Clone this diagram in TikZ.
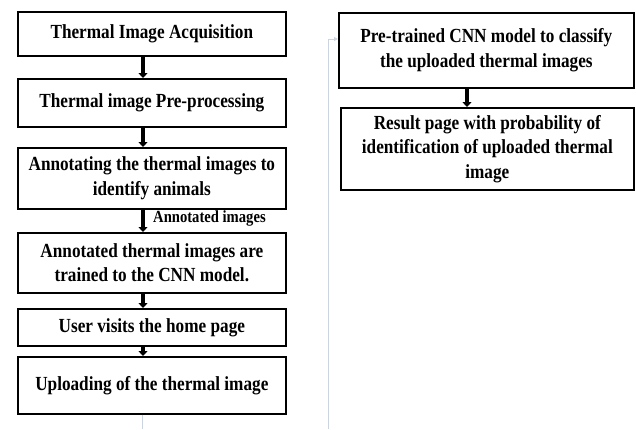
\documentclass[tikz,border=0pt]{standalone}
\usepackage{fontspec}
\setmainfont{Liberation Serif}[FakeStretch=0.86]
\usetikzlibrary{arrows.meta}
\definecolor{faint}{RGB}{205,212,225}
\tikzset{
  stepbox/.style={draw=black, line width=1.7pt, inner sep=0pt, anchor=north west,
    font=\bfseries\fontsize{20}{24.5}\selectfont, align=center},
  flow/.style={line width=3.4pt, -{Triangle[width=9pt,length=5pt]}},
  faintline/.style={draw=faint, line width=0.9pt},
}
\begin{document}
\begin{tikzpicture}[x=1pt,y=-1pt]
\useasboundingbox (0,0) rectangle (636,429);
% left column
\node[stepbox, minimum width=268pt, minimum height=44pt] (b1) at (17,11) {Thermal Image Acquisition};
\node[stepbox, minimum width=268pt, minimum height=48pt] (b2) at (17,78) {Thermal image Pre-processing};
\node[stepbox, minimum width=268pt, minimum height=61pt] (b3) at (17,147) {Annotating the thermal images to\\identify animals};
\node[stepbox, minimum width=268pt, minimum height=60pt] (b4) at (17,232) {Annotated thermal images are\\trained to the CNN model.};
\node[stepbox, minimum width=268pt, minimum height=37pt] (b5) at (17,308) {User visits the home page};
\node[stepbox, minimum width=268pt, minimum height=57pt] (b6) at (17,356) {Uploading of the thermal image};
% right column
\node[stepbox, minimum width=295pt, minimum height=75pt] (r1) at (338,12) {Pre-trained CNN model to classify\\the uploaded thermal images};
\node[stepbox, minimum width=293pt, minimum height=82pt] (r2) at (340,107) {Result page with probability of\\identification of uploaded thermal\\image};
% arrows
\draw[flow] (b1.south -| 143,0) -- (b2.north -| 143,0);
\draw[flow] (b2.south -| 143,0) -- (b3.north -| 143,0);
\draw[flow] (b3.south -| 143,0) -- (b4.north -| 143,0);
\draw[flow] (b4.south -| 143,0) -- (b5.north -| 143,0);
\draw[flow] (b5.south -| 143,0) -- (b6.north -| 143,0);
\draw[flow] (r1.south -| 467,0) -- (r2.north -| 467,0);
\node[font=\bfseries\fontsize{17}{20}\selectfont, anchor=west, inner sep=0pt] (lab) at (153,218) {Annotated images};
% return path from the upload step to the classifier
\coordinate (down) at (142,429);
\coordinate (up) at (328,429);
\coordinate (turn) at (328,39);
\draw[faintline] (b6.south -| down) -- (down);
\draw[faintline, -{Triangle[width=4pt,length=4pt]}] (up) -- (turn) -- (turn -| r1.west);
\end{tikzpicture}
\end{document}
